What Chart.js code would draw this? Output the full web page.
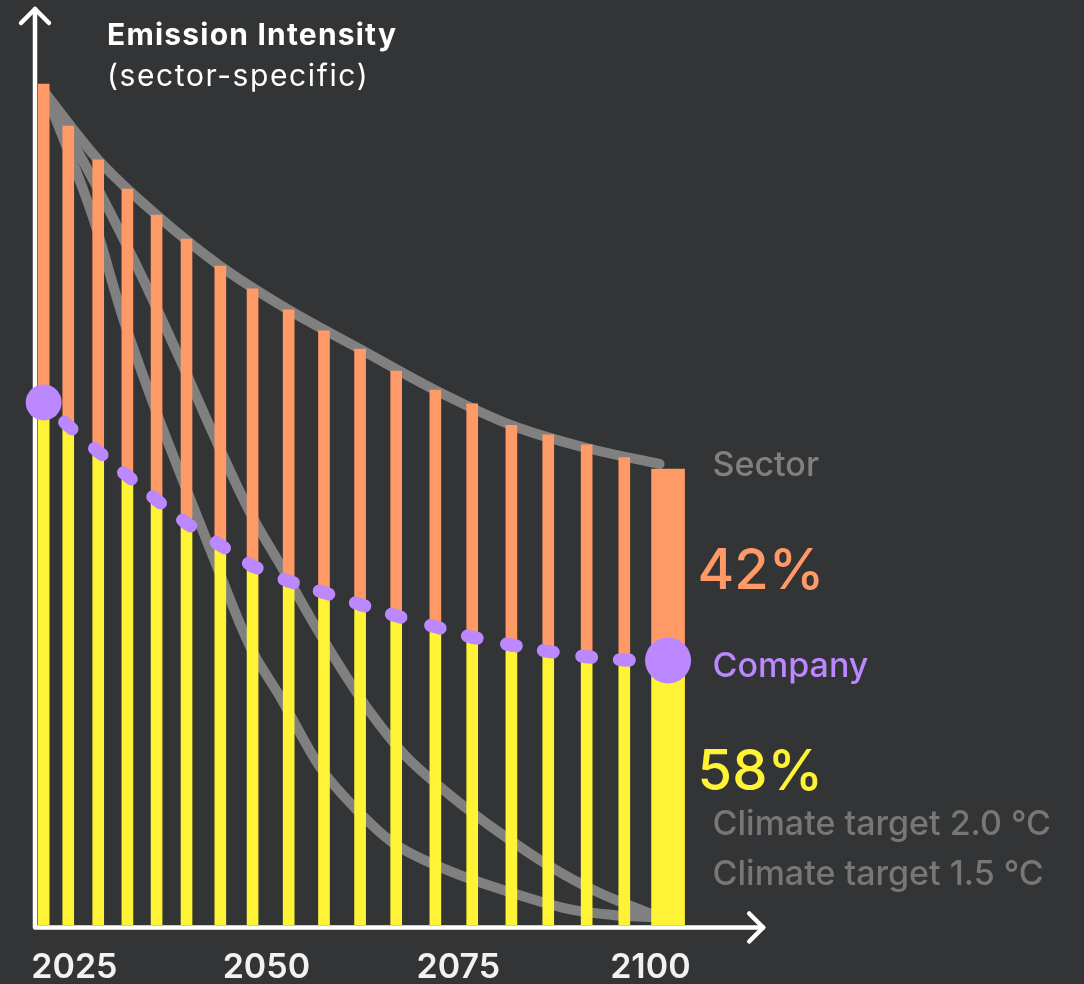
<!DOCTYPE html>
<html>
<head>
<meta charset="utf-8">
<title>Emission Intensity</title>
<script src="https://cdn.jsdelivr.net/npm/chart.js@4.4.1/dist/chart.umd.min.js"></script>
<style>
  html, body { margin: 0; padding: 0; background: #333436; }
  canvas { display: block; }
</style>
</head>
<body>
<canvas id="chart" width="1084" height="984"></canvas>
<script>
// ---- data -------------------------------------------------------------
// Reporting years of the bars (the last one is the highlighted end bar)
const years = [2021.0, 2024.2, 2028.1, 2031.9, 2035.7, 2039.6, 2044.0, 2048.2, 2052.9,
               2057.5, 2062.2, 2066.9, 2072.0, 2076.8, 2081.9, 2086.7, 2091.7, 2096.6, 2102.3];
// Sector-specific emission intensity (index, end year = 100)
const sectorIntensity = [184.4, 175.2, 167.8, 161.4, 155.7, 150.4, 144.5, 139.5, 134.9,
                         130.3, 126.3, 121.5, 117.3, 114.3, 109.6, 107.5, 105.3, 102.5, 100.0];
// Company emission intensity on the same index
const companyIntensity = [114.6, 109.5, 103.8, 98.5, 93.2, 88.1, 83.3, 78.7, 75.4,
                          72.9, 70.3, 67.8, 65.4, 63.1, 61.4, 60.0, 58.8, 58.1, 58.0];

// Sector pathway curve
const sectorPathYears  = [2021.3, 2028.1, 2035.7, 2044.0, 2052.9, 2062.2, 2072.0, 2081.9, 2091.7, 2101.2];
const sectorPathValues = [182.2, 167.8, 155.7, 144.5, 134.9, 126.3, 117.3, 109.6, 104.6, 101.1];

// Climate target pathways
const target20Years  = [2021.3, 2028.3, 2033.5, 2038.8, 2043.6, 2047.9, 2052.2, 2055.9,
                        2060.1, 2063.5, 2068.0, 2073.9, 2080.4, 2086.9, 2093.4, 2100.2];
const target20Values = [182.2, 160.7, 143.2, 123.9, 105.7, 90.4, 77.9, 66.9,
                        55.3, 46.7, 37.3, 28.5, 20.2, 12.9, 7.0, 2.4];
const target15Years  = [2021.3, 2027.4, 2031.3, 2035.1, 2039.1, 2043.6, 2047.9, 2051.8,
                        2057.0, 2061.8, 2066.5, 2073.5, 2082.1, 2089.9, 2095.1, 2100.2];
const target15Values = [182.2, 155.3, 133.3, 115.1, 97.6, 78.5, 61.0, 50.0,
                        34.6, 25.2, 18.0, 12.1, 7.0, 3.3, 2.2, 1.75];

const tickYears = [2025, 2050, 2075, 2100];

// ---- styling ------------------------------------------------------------
const FONT = "Inter, 'Noto Sans', sans-serif";
const YELLOW = '#fff336';
const ORANGE = '#ff9966';
const PURPLE = '#bb88ff';
const GREY = '#808080';
const THIN_BAR = 11;
const WIDE_BAR = 33;

const last = years.length - 1;
const pts = (xs, ys) => xs.map((x, i) => ({ x, y: ys[i] }));

const thinYellow = years.slice(0, last).map((x, i) => ({ x, y: companyIntensity[i] }));
const thinOrange = years.slice(0, last).map((x, i) => ({ x, y: [companyIntensity[i], sectorIntensity[i]] }));
const wideYellow = [{ x: years[last], y: companyIntensity[last] }];
const wideOrange = [{ x: years[last], y: [companyIntensity[last], sectorIntensity[last]] }];

const orangeShare = Math.round((sectorIntensity[last] - companyIntensity[last]) / sectorIntensity[last] * 100);
const yellowShare = Math.round(companyIntensity[last] / sectorIntensity[last] * 100);

const greyLine = (data) => ({
  type: 'line', data, order: 3,
  borderColor: GREY, borderWidth: 10, borderCapStyle: 'round', borderJoinStyle: 'round',
  cubicInterpolationMode: 'monotone', pointRadius: 0, fill: false, clip: false
});

// axis lines with arrow heads
const axisArrows = {
  id: 'axisArrows',
  beforeDatasetsDraw(chart) {
    const { ctx, chartArea: a } = chart;
    const x0 = a.left - 1, y0 = a.bottom + 2.5;
    const topY = a.top - 4, tipX = a.right + 36;
    ctx.save();
    ctx.strokeStyle = '#ffffff';
    ctx.lineWidth = 4.5;
    ctx.lineCap = 'round';
    ctx.lineJoin = 'round';
    ctx.beginPath();
    ctx.moveTo(x0, topY); ctx.lineTo(x0, y0); ctx.lineTo(tipX, y0);
    ctx.stroke();
    ctx.beginPath();
    ctx.moveTo(x0 - 14, topY + 14); ctx.lineTo(x0, topY); ctx.lineTo(x0 + 14, topY + 14);
    ctx.stroke();
    ctx.beginPath();
    ctx.moveTo(tipX - 14, y0 - 14); ctx.lineTo(tipX, y0); ctx.lineTo(tipX - 14, y0 + 14);
    ctx.stroke();
    ctx.restore();
  }
};

// title and end-of-period annotations
const annotations = {
  id: 'annotations',
  afterDraw(chart) {
    const { ctx, chartArea: a, scales: { x, y } } = chart;
    const barRight = x.getPixelForValue(years[last]) + WIDE_BAR / 2;
    const sectorEndY = y.getPixelForValue(sectorPathValues[sectorPathValues.length - 1]);
    const topY = y.getPixelForValue(sectorIntensity[last]);
    const companyY = y.getPixelForValue(companyIntensity[last]);
    const labelX = barRight + 28;
    const pctX = barRight + 13;

    ctx.save();
    ctx.textBaseline = 'alphabetic';
    ctx.textAlign = 'left';

    ctx.fillStyle = '#ffffff';
    ctx.font = `700 30px ${FONT}`;
    ctx.letterSpacing = '1.2px';
    ctx.fillText('Emission Intensity', 107, 45);
    ctx.font = `400 30px ${FONT}`;
    ctx.letterSpacing = '1.6px';
    ctx.fillText('(sector-specific)', 107, 86);
    ctx.letterSpacing = '0px';

    ctx.font = `500 34px ${FONT}`;
    ctx.fillStyle = GREY;
    ctx.fillText('Sector', labelX, sectorEndY + 12);

    ctx.font = `500 56px ${FONT}`;
    ctx.fillStyle = ORANGE;
    ctx.fillText(orangeShare + '%', pctX, (topY + companyY) / 2 + 24);

    ctx.font = `500 34px ${FONT}`;
    ctx.fillStyle = PURPLE;
    ctx.fillText('Company', labelX, companyY + 16);

    ctx.font = `500 56px ${FONT}`;
    ctx.fillStyle = YELLOW;
    ctx.fillText(yellowShare + '%', pctX, companyY + 129.5);

    ctx.font = `500 34px ${FONT}`;
    ctx.fillStyle = '#777777';
    ctx.fillText('Climate target 2.0 °C', labelX, a.bottom - 90);
    ctx.fillText('Climate target 1.5 °C', labelX, a.bottom - 40);
    ctx.restore();
  }
};

new Chart(document.getElementById('chart'), {
  type: 'bar',
  data: {
    datasets: [
      greyLine(pts(sectorPathYears, sectorPathValues)),
      greyLine(pts(target20Years, target20Values)),
      greyLine(pts(target15Years, target15Values)),
      { data: thinYellow, backgroundColor: YELLOW, barThickness: THIN_BAR, grouped: false, order: 2, borderWidth: 0 },
      { data: thinOrange, backgroundColor: ORANGE, barThickness: THIN_BAR, grouped: false, order: 2, borderWidth: 0 },
      { data: wideYellow, backgroundColor: YELLOW, barThickness: WIDE_BAR, grouped: false, order: 2, borderWidth: 0 },
      { data: wideOrange, backgroundColor: ORANGE, barThickness: WIDE_BAR, grouped: false, order: 2, borderWidth: 0 },
      {
        type: 'line', order: 1, clip: false,
        data: pts(years, companyIntensity),
        borderColor: PURPLE, borderWidth: 13, borderCapStyle: 'round', borderJoinStyle: 'round',
        tension: 0, fill: false,
        segment: {
          // one short rounded dash centred on every data point
          borderDash: (c) => {
            const len = Math.hypot(c.p1.x - c.p0.x, c.p1.y - c.p0.y);
            return [5, Math.max(len - 10, 0), 5, 0];
          }
        },
        pointRadius: (c) => (c.dataIndex === 0 ? 18 : c.dataIndex === last ? 23 : 0),
        pointBackgroundColor: PURPLE, pointBorderWidth: 0, pointHoverRadius: 0
      }
    ]
  },
  options: {
    responsive: false,
    devicePixelRatio: 1,
    animation: false,
    events: [],
    layout: { autoPadding: false, padding: { left: 36, top: 13, right: 356.8, bottom: 0 } },
    plugins: { legend: { display: false }, tooltip: { enabled: false }, title: { display: false } },
    scales: {
      x: {
        type: 'linear', min: 2020, max: 2110, offset: false,
        grid: { display: false }, border: { display: false },
        afterBuildTicks: (s) => { s.ticks = tickYears.map((v) => ({ value: v })); },
        afterFit: (s) => { s.height = 59; },
        ticks: {
          color: '#f2f2f2', padding: 14, maxRotation: 0, autoSkip: false,
          font: { family: FONT, size: 34, weight: '600' },
          callback: (v) => String(v)
        }
      },
      y: { display: false, min: 0, max: 200 }
    }
  },
  plugins: [axisArrows, annotations]
});
</script>
</body>
</html>
